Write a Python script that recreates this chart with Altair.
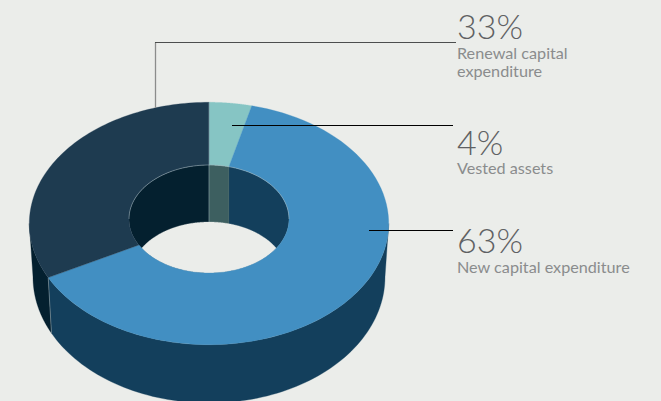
import altair as alt
import numpy as np

# Shares of capital expenditure
SHARES = [4, 63, 33]
PERCENT_LABELS = ["4%", "63%", "33%"]
CATEGORY_LINES = [["Vested assets"], ["New capital expenditure"], ["Renewal capital", "expenditure"]]

TOP_COLOURS = ["#86c5c4", "#428fc2", "#1e3b50"]
WALL_COLOURS = ["#3d5f60", "#133f5c", "#04202f"]
PAGE = "#ebedea"

# Ellipses as (centre x, centre y, radius x, radius y)
OUTER_TOP = (209, 223.5, 179.7, 121.2)
OUTER_BOTTOM = (209, 277, 176, 126)
INNER_TOP = (209, 219, 80, 54)
INNER_BOTTOM = (209, 275, 78, 53)

# Foreshortening of the far side of the disc on its outer rim
PERSPECTIVE = 0.956

# Clockwise slice boundaries, in degrees from twelve o'clock
edges = np.concatenate([[0], np.cumsum(SHARES)]) * 3.6


def outer_angle(angle):
    """Angle on the outer rim that lies on the same radial line as `angle`."""
    half = np.radians(angle) / 2
    return np.degrees(2 * np.arctan2(PERSPECTIVE * np.sin(half), np.cos(half))) % 360


outer_edges = [0.0, outer_angle(edges[1]), outer_angle(edges[2]), 360.0]


def arc(ellipse, start, end, n=90):
    cx, cy, rx, ry = ellipse
    t = np.radians(np.linspace(start, end, n))
    return np.column_stack([cx + rx * np.sin(t), cy - ry * np.cos(t)]).tolist()


def polygon(points, fill):
    ring = list(points) + [points[0]]
    return {"type": "Feature", "properties": {"fill": fill},
            "geometry": {"type": "Polygon", "coordinates": [ring]}}


def line(points):
    return {"type": "Feature", "properties": {},
            "geometry": {"type": "LineString", "coordinates": points}}


features = []

# Outer side wall: only the front half of the disc shows
for colour, a, b in [(WALL_COLOURS[1], 90, outer_edges[2]), (WALL_COLOURS[2], outer_edges[2], 270)]:
    features.append(polygon(arc(OUTER_TOP, a, b) + arc(OUTER_BOTTOM, b, a), colour))

# Inner wall, split by vertical seams at the slice boundaries
teal_angle = edges[1]
features.append(polygon(arc(INNER_TOP, 180, 360), WALL_COLOURS[2]))
features.append(polygon(arc(INNER_TOP, teal_angle, 180 - teal_angle), WALL_COLOURS[1]))
features.append(polygon(arc(INNER_TOP, 0, teal_angle, 20) + arc(INNER_TOP, 180 - teal_angle, 180, 20),
                        WALL_COLOURS[0]))

# Opening through the ring: inside both the upper and the lower inner ellipse
xs = np.linspace(INNER_TOP[0] - INNER_BOTTOM[2], INNER_TOP[0] + INNER_BOTTOM[2], 401)
lower = INNER_TOP[1] + INNER_TOP[3] * np.sqrt(np.clip(1 - ((xs - INNER_TOP[0]) / INNER_TOP[2]) ** 2, 0, 1))
upper = INNER_BOTTOM[1] - INNER_BOTTOM[3] * np.sqrt(np.clip(1 - ((xs - INNER_BOTTOM[0]) / INNER_BOTTOM[2]) ** 2, 0, 1))
open_part = upper < lower
features.append(polygon(
    np.column_stack([xs[open_part], upper[open_part]]).tolist()
    + np.column_stack([xs[open_part], lower[open_part]])[::-1].tolist(),
    PAGE))

# Top face of the ring
for i, colour in enumerate(TOP_COLOURS):
    features.append(polygon(
        arc(OUTER_TOP, outer_edges[i], outer_edges[i + 1]) + arc(INNER_TOP, edges[i + 1], edges[i]),
        colour))

# Thin light seams along the inner rim and slice joins
seam_colour = "#a9bcc2"
navy_edge = outer_edges[2]
seams = [
    line(arc(INNER_TOP, 270, 450)),
    line([[INNER_TOP[0], INNER_TOP[1] - INNER_TOP[3]], [INNER_BOTTOM[0], INNER_BOTTOM[1] - INNER_BOTTOM[3]]]),
    line([arc(OUTER_TOP, navy_edge, navy_edge, 1)[0], arc(OUTER_BOTTOM, navy_edge, navy_edge, 1)[0]]),
    line([[OUTER_TOP[0], OUTER_TOP[1] - OUTER_TOP[3]], [INNER_TOP[0], INNER_TOP[1] - INNER_TOP[3]]]),
]

PROJECTION = dict(type="identity", scale=1, translate=[0, 0])

shapes = (
    alt.Chart(alt.Data(values=features))
    .mark_geoshape(strokeWidth=0.3)
    .encode(
        fill=alt.Fill("properties.fill:N", scale=None),
        stroke=alt.Stroke("properties.fill:N", scale=None),
    )
    .project(**PROJECTION)
)

seam_layer = (
    alt.Chart(alt.Data(values=seams))
    .mark_geoshape(filled=False, stroke=seam_colour, strokeWidth=0.7, opacity=0.7)
    .project(**PROJECTION)
)


def rule(x1, x2, y1, y2, colour, width):
    return alt.Chart(alt.Data(values=[{}])).mark_rule(color=colour, strokeWidth=width).encode(
        x=alt.value(x1), x2=alt.value(x2), y=alt.value(y1), y2=alt.value(y2))


leaders = [
    rule(155.5, 155.5, 42.5, 108, "#8b8d8c", 1.3),
    rule(155, 456, 42.5, 42.5, "#3a3c3c", 0.9),
    rule(232, 453, 125.5, 125.5, "#000000", 1),
    rule(369, 453, 230.5, 230.5, "#000000", 1),
]


def label(text, y, size, colour, weight):
    return alt.Chart(alt.Data(values=[{"t": text}])).mark_text(
        align="left", baseline="alphabetic", font="Lato", fontWeight=weight,
        fontSize=size, color=colour,
    ).encode(x=alt.value(457), y=alt.value(y), text="t:N")


# Label blocks by slice: percentage baseline, then category baselines
label_rows = [
    (PERCENT_LABELS[2], 39, CATEGORY_LINES[2], [58.5, 77]),
    (PERCENT_LABELS[0], 155, CATEGORY_LINES[0], [174]),
    (PERCENT_LABELS[1], 253, CATEGORY_LINES[1], [272.5]),
]
texts = []
for percent, y, lines, ys in label_rows:
    texts.append(label(percent, y, 34, "#5f6163", 300))
    for text, line_y in zip(lines, ys):
        texts.append(label(text, line_y, 16.2, "#8a8c8d", 400))

chart = alt.layer(shapes, seam_layer, *leaders, *texts).properties(
    width=661, height=401, padding=0, background=PAGE,
    autosize=alt.AutoSizeParams(type="none"),
).configure_view(stroke=None)

chart.save("out.html", embed_options={"renderer": "svg", "actions": False})
